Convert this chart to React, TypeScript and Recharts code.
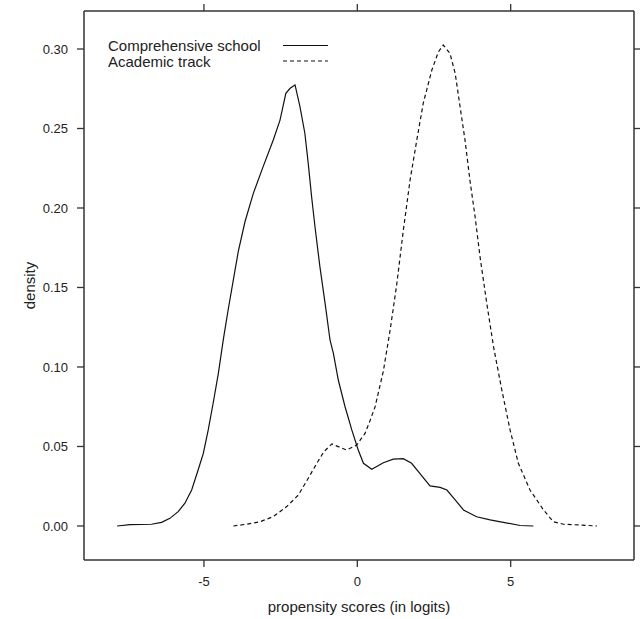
import React from 'react';
import { LineChart, Line, XAxis, YAxis, Legend } from 'recharts';

// Comprehensive school density curve
const compX = [-7.83, -7.41, -6.71, -6.38, -6.11, -5.84, -5.62, -5.40, -5.19, -5.02, -4.86, -4.70, -4.53, -4.37, -4.21, -4.04, -3.88, -3.66, -3.39, -3.07, -2.74, -2.52, -2.33, -2.19, -2.03, -1.87, -1.71, -1.60, -1.49, -1.38, -1.22, -1.05, -0.89, -0.78, -0.62, -0.40, -0.18, 0.03, 0.20, 0.47, 0.85, 1.17, 1.50, 1.77, 2.05, 2.37, 2.70, 2.92, 3.19, 3.46, 3.89, 4.33, 4.76, 5.31, 5.74];
const compY = [0.0, 0.0008, 0.0011, 0.0023, 0.0048, 0.009, 0.0143, 0.0226, 0.0352, 0.0457, 0.0604, 0.0772, 0.096, 0.117, 0.136, 0.155, 0.1727, 0.1915, 0.2092, 0.226, 0.2428, 0.2553, 0.2721, 0.2753, 0.2774, 0.2637, 0.247, 0.2281, 0.2071, 0.1882, 0.1631, 0.14, 0.117, 0.1086, 0.0918, 0.075, 0.0604, 0.0478, 0.0394, 0.0357, 0.0398, 0.042, 0.0423, 0.0394, 0.0327, 0.0252, 0.0243, 0.0226, 0.0164, 0.0101, 0.0058, 0.0038, 0.0023, 0.0003, 0.0];

// Academic track density curve
const acadX = [-4.04, -3.61, -3.17, -2.74, -2.30, -1.92, -1.60, -1.32, -1.09, -0.83, -0.62, -0.35, -0.02, 0.25, 0.41, 0.58, 0.85, 1.07, 1.29, 1.50, 1.72, 1.94, 2.15, 2.43, 2.64, 2.80, 3.02, 3.19, 3.35, 3.51, 3.67, 3.84, 4.00, 4.22, 4.44, 4.71, 4.98, 5.25, 5.63, 6.07, 6.39, 6.72, 7.26, 7.81];
const acadY = [0.0, 0.0011, 0.0027, 0.0059, 0.0122, 0.0195, 0.03, 0.0394, 0.0467, 0.0516, 0.0499, 0.0478, 0.0509, 0.0582, 0.066, 0.075, 0.0975, 0.1233, 0.1526, 0.186, 0.2176, 0.2428, 0.2659, 0.2868, 0.298, 0.3025, 0.2973, 0.2847, 0.2637, 0.2428, 0.2176, 0.1945, 0.1694, 0.1401, 0.1128, 0.0856, 0.0604, 0.0394, 0.0226, 0.0101, 0.0027, 0.0011, 0.0006, 0.0];

const xTicks = [-5, 0, 5];
const yTicks = [0, 0.05, 0.1, 0.15, 0.2, 0.25, 0.3];
const seriesNames = ['Comprehensive school', 'Academic track'];
const xTitle = 'propensity scores (in logits)';
const yTitle = 'density';

const compData = compX.map((x, i) => ({ x, y: compY[i] }));
const acadData = acadX.map((x, i) => ({ x, y: acadY[i] }));

const FONT = '"Liberation Sans", Arial, Helvetica, sans-serif';
const AXIS = '#333';
const INK = '#111';
const DASH = '4 3';

const LegendBox = () => (
  <svg width={240} height={40} style={{ display: 'block' }}>
    <text x={0} y={17} fontFamily={FONT} fontSize={15} fill="#222">{seriesNames[0]}</text>
    <line x1={175} x2={220} y1={11.5} y2={11.5} stroke={INK} strokeWidth={1.2} />
    <text x={0} y={33} fontFamily={FONT} fontSize={15} fill="#222">{seriesNames[1]}</text>
    <line x1={175} x2={220} y1={27} y2={27} stroke={INK} strokeWidth={1.2} strokeDasharray={DASH} />
  </svg>
);

const YTitle = (props: any) => {
  const vb = props.viewBox || { x: 0, y: 0, width: 0, height: 0 };
  const cx = vb.x + 35;
  const cy = vb.y + vb.height / 2;
  return (
    <text x={cx} y={cy} transform={`rotate(-90, ${cx}, ${cy})`} textAnchor="middle" fontFamily={FONT} fontSize={15} fill="#222">
      {yTitle}
    </text>
  );
};

export default function App() {
  const tickStyle = { fontFamily: FONT, fontSize: 13, fill: '#222' };
  const axisLine = { stroke: AXIS, strokeWidth: 1.5 };
  const tickLine = { stroke: AXIS, strokeWidth: 1.3 };
  return (
    <div style={{ position: 'absolute', top: 0, left: 0, width: 640, height: 619, background: '#fff' }}>
      <LineChart width={640} height={619} margin={{ top: 0, right: 0, bottom: 0, left: 0 }}>
        <XAxis
          xAxisId="b"
          type="number"
          dataKey="x"
          domain={[-8.91, 9.02]}
          allowDataOverflow
          ticks={xTicks}
          height={59}
          tickSize={7}
          tickMargin={10}
          tick={tickStyle}
          axisLine={axisLine}
          tickLine={tickLine}
          label={{ value: xTitle, position: 'insideBottom', offset: 7, style: { fontFamily: FONT, fontSize: 15, fill: '#222' } }}
        />
        <XAxis
          xAxisId="t"
          orientation="top"
          type="number"
          dataKey="x"
          domain={[-8.91, 9.02]}
          allowDataOverflow
          ticks={xTicks}
          height={11}
          tickSize={7}
          tick={() => <g />}
          axisLine={axisLine}
          tickLine={tickLine}
        />
        <YAxis
          yAxisId="l"
          type="number"
          domain={[-0.0214, 0.3239]}
          allowDataOverflow
          ticks={yTicks}
          width={84}
          tickSize={7}
          tickMargin={9}
          tick={tickStyle}
          tickFormatter={(v: number) => v.toFixed(2)}
          axisLine={axisLine}
          tickLine={tickLine}
          label={<YTitle />}
        />
        <YAxis
          yAxisId="r"
          orientation="right"
          type="number"
          domain={[-0.0214, 0.3239]}
          allowDataOverflow
          ticks={yTicks}
          width={6}
          tickSize={7}
          tick={() => <g />}
          axisLine={axisLine}
          tickLine={tickLine}
        />
        <Legend
          layout="vertical"
          align="center"
          verticalAlign="middle"
          wrapperStyle={{ top: 34, left: 108, width: 240, height: 40 }}
          content={() => <LegendBox />}
        />
        <Line
          xAxisId="b"
          yAxisId="l"
          data={compData}
          dataKey="y"
          name={seriesNames[0]}
          type="linear"
          dot={false}
          activeDot={false}
          stroke={INK}
          strokeWidth={1.2}
          isAnimationActive={false}
        />
        <Line
          xAxisId="b"
          yAxisId="l"
          data={acadData}
          dataKey="y"
          name={seriesNames[1]}
          type="linear"
          dot={false}
          activeDot={false}
          stroke={INK}
          strokeWidth={1.2}
          strokeDasharray={DASH}
          isAnimationActive={false}
        />
      </LineChart>
    </div>
  );
}
